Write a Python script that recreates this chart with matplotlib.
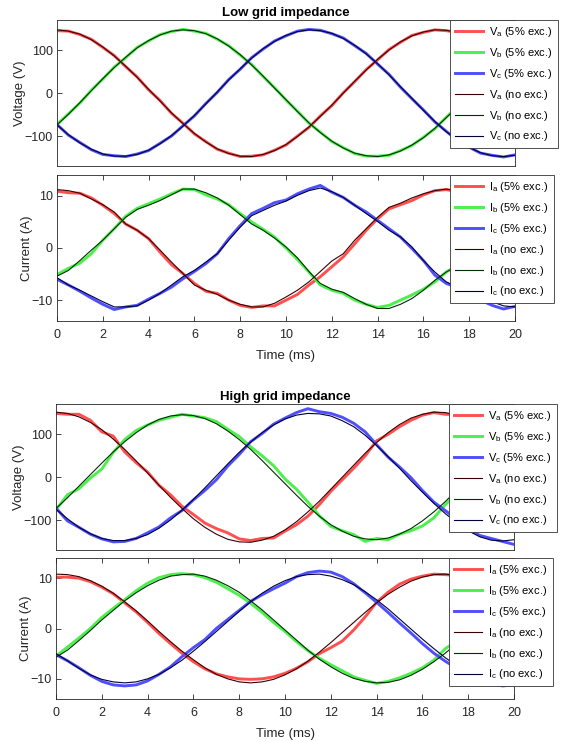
import numpy as np
import matplotlib
matplotlib.use("Agg")
import matplotlib.pyplot as plt

plt.rcParams['font.family'] = ['Liberation Sans', 'DejaVu Sans']
plt.rcParams['mathtext.fontset'] = 'custom'
plt.rcParams['mathtext.rm'] = 'Liberation Sans'

# time axis (ms), one reading every 0.5 ms
t = np.arange(0, 20.01, 0.5)

# low grid impedance - voltages (V)
low_va_exc = [146, 145, 137, 126, 107, 88, 62, 38, 8, -17, -47, -70, -95, -113, -131, -140, -148, -147, -144, -133, -121,
              -100, -80, -53, -29, 1, 27, 55, 78, 102, 119, 135, 142, 148, 146, 142, 129, 115, 93, 72, 45]
low_vb_exc = [-73, -48, -23, 7, 33, 61, 83, 107, 122, 137, 144, 149, 145, 140, 126, 111, 89, 67, 39, 13, -16,
              -42, -70, -91, -113, -127, -141, -147, -147, -145, -134, -122, -103, -83, -56, -32, -2, 24, 53, 76, 100]
low_vc_exc = [-73, -98, -115, -132, -143, -146, -148, -142, -134, -117, -100, -76, -53, -24, 2, 32, 56, 83, 103, 122, 134,
              145, 149, 147, 139, 129, 111, 93, 68, 44, 14, -13, -39, -67, -89, -111, -126, -140, -145, -149, -144]
low_va = [148, 145, 138, 125, 108, 87, 63, 37, 9, -18, -46, -71, -94, -114, -130, -141, -147, -148, -143, -134, -120,
          -101, -79, -54, -28, 0, 28, 54, 79, 101, 120, 134, 143, 148, 147, 141, 130, 114, 94, 71, 46]
low_vb = [-74, -49, -22, 6, 34, 60, 84, 106, 123, 136, 145, 148, 146, 139, 127, 110, 90, 66, 40, 12, -15,
          -43, -69, -92, -112, -128, -140, -146, -148, -144, -135, -121, -104, -82, -57, -31, -3, 25, 52, 77, 99]
low_vc = [-74, -97, -116, -131, -142, -147, -147, -143, -133, -118, -99, -77, -52, -25, 3, 31, 57, 82, 104, 121, 135,
          144, 148, 146, 140, 128, 112, 92, 69, 43, 15, -12, -40, -66, -90, -110, -127, -139, -146, -148, -145]

# low grid impedance - currents (A)
low_ia_exc = [10.9, 10.6, 10.5, 9.6, 8.2, 6.6, 4.6, 3.4, 1.8, -0.8, -3.2, -4.9, -6.8, -8.3, -8.7, -10.0, -11.0, -11.4, -11.1, -11.1, -10.0,
              -8.9, -7.1, -5.5, -3.6, -1.7, 0.8, 3.4, 5.6, 7.5, 8.3, 9.1, 10.2, 11.0, 11.2, 10.8, 10.4, 9.5, 8.2, 6.6, 4.6]
low_ib_exc = [-5.1, -3.9, -2.9, -1.1, 1.5, 3.7, 6.1, 7.6, 8.5, 9.4, 10.4, 11.3, 11.2, 10.2, 9.4, 8.3, 6.6, 5.0, 3.6, 2.1, 0.0,
              -2.2, -4.6, -7.1, -8.1, -8.7, -10.0, -10.8, -11.4, -11.0, -10.0, -9.0, -7.9, -6.5, -4.6, -3.3, -1.8, 1.2, 2.6, 5.0, 7.2]
low_ic_exc = [-6.0, -7.1, -8.3, -9.6, -10.8, -11.8, -11.3, -11.0, -9.8, -8.7, -7.5, -5.9, -4.5, -3.0, -1.1, 1.8, 4.3, 6.6, 7.6, 8.7, 9.2,
              10.4, 11.3, 12.0, 10.7, 9.7, 8.2, 6.9, 5.3, 3.7, 2.1, -0.1, -2.4, -5.2, -6.8, -7.6, -8.5, -10.0, -11.0, -11.7, -11.2]
low_ia = [11.2, 11.0, 10.5, 9.4, 8.3, 6.9, 4.6, 3.4, 1.8, -0.4, -2.7, -4.9, -7.1, -8.1, -8.9, -10.0, -10.8, -11.3, -11.3, -10.6, -9.4,
          -8.1, -6.5, -4.5, -2.5, -1.1, 1.5, 3.7, 5.9, 7.8, 8.6, 9.6, 10.4, 11.0, 11.3, 11.0, 10.5, 9.4, 8.2, 6.5, 4.6]
low_ib = [-5.4, -4.3, -2.4, -0.4, 1.5, 3.7, 5.9, 7.4, 8.2, 9.1, 10.2, 11.3, 11.3, 10.6, 9.6, 8.2, 6.4, 4.6, 3.4, 1.9, 0.2,
          -1.9, -4.5, -6.8, -7.9, -8.5, -9.7, -10.8, -11.6, -11.6, -10.8, -9.7, -8.1, -6.2, -4.6, -3.4, -1.7, 0.5, 3.0, 5.3, 7.0]
low_ic = [-5.7, -7.1, -8.1, -9.2, -10.3, -11.3, -11.3, -11.1, -10.0, -8.7, -7.1, -5.5, -4.3, -2.7, -1.1, 1.5, 4.0, 6.2, 7.2, 8.2, 9.0,
          10.1, 11.0, 11.5, 10.8, 9.7, 8.2, 6.6, 5.1, 3.4, 2.1, 0.2, -2.4, -4.6, -6.5, -7.5, -8.3, -9.3, -10.3, -11.1, -11.3]

# high grid impedance - voltages (V)
high_va_exc = [149, 147, 147, 133, 106, 96, 59, 34, 12, -19, -41, -68, -87, -107, -120, -130, -144, -148, -143, -142, -126,
               -111, -91, -64, -33, -6, 21, 50, 85, 100, 118, 133, 145, 151, 147, 146, 138, 125, 105, 85, 58]
high_vb_exc = [-76, -41, -27, -2, 19, 58, 88, 109, 122, 133, 140, 147, 143, 139, 130, 112, 95, 71, 50, 27, -4,
               -28, -58, -90, -115, -125, -134, -150, -143, -146, -133, -125, -114, -95, -64, -38, -12, 18, 45, 72, 98]
high_vc_exc = [-72, -102, -117, -133, -144, -151, -150, -143, -130, -116, -95, -78, -53, -31, -6, 26, 53, 83, 102, 124, 138,
               151, 160, 153, 149, 140, 126, 106, 76, 47, 24, -1, -31, -58, -78, -98, -120, -136, -143, -150, -157]
high_va = [152, 149, 141, 128, 111, 89, 65, 38, 10, -19, -47, -73, -97, -117, -133, -145, -151, -152, -147, -138, -123,
           -104, -81, -56, -28, 0, 28, 56, 81, 104, 123, 138, 147, 152, 151, 145, 133, 117, 97, 73, 47]
high_vb = [-73, -48, -21, 6, 33, 59, 83, 104, 122, 135, 143, 146, 144, 137, 125, 108, 88, 65, 39, 12, -15,
           -42, -68, -91, -111, -126, -138, -144, -146, -142, -133, -120, -102, -81, -57, -30, -3, 24, 51, 76, 98]
high_vc = [-75, -97, -117, -132, -143, -148, -148, -143, -134, -119, -100, -77, -52, -25, 3, 31, 58, 82, 104, 122, 136,
           145, 149, 148, 143, 132, 118, 98, 74, 48, 21, -8, -35, -61, -85, -106, -125, -139, -147, -149, -146]

# high grid impedance - currents (A)
high_ia_exc = [10.2, 10.2, 10.0, 9.3, 8.2, 6.9, 5.1, 3.3, 1.2, -1.0, -3.0, -4.9, -6.6, -8.0, -9.0, -9.6, -10.0, -10.1, -10.0, -9.6, -8.9,
               -7.9, -6.6, -5.0, -3.8, -2.5, -0.3, 2.3, 5.2, 7.2, 8.8, 9.8, 10.4, 10.8, 10.7, 10.5, 10.1, 9.4, 8.4, 7.0, 5.4]
high_ib_exc = [-5.5, -3.7, -1.9, 0.0, 2.2, 4.0, 5.7, 7.5, 9.0, 10.1, 10.7, 10.9, 10.7, 10.1, 9.2, 7.9, 6.6, 5.0, 3.2, 1.2, -0.6,
               -2.6, -4.4, -5.9, -7.2, -8.4, -9.6, -10.3, -10.9, -10.5, -9.8, -8.9, -7.8, -6.3, -4.0, -2.5, -0.7, 1.5, 3.4, 5.2, 6.9]
high_ic_exc = [-5.2, -6.4, -7.8, -9.3, -10.5, -11.2, -11.4, -11.2, -10.4, -9.1, -7.6, -5.6, -3.8, -2.2, 0.0, 1.8, 3.6, 5.4, 6.7, 7.9, 9.0,
               10.3, 11.1, 11.4, 11.2, 10.3, 8.9, 7.1, 5.2, 3.2, 1.1, -0.9, -3.0, -4.9, -6.5, -7.9, -9.2, -10.3, -11.0, -11.4, -11.2]
high_ia = [10.8, 10.7, 10.3, 9.5, 8.4, 7.0, 5.3, 3.5, 1.5, -0.6, -2.6, -4.5, -6.2, -7.8, -9.1, -10.0, -10.6, -10.8, -10.6, -10.1, -9.2,
           -8.0, -6.5, -4.7, -2.8, -0.8, 1.2, 3.2, 5.1, 6.8, 8.2, 9.4, 10.2, 10.7, 10.8, 10.5, 9.8, 8.8, 7.5, 5.9, 4.1]
high_ib = [-5.7, -4.3, -2.4, -0.4, 1.7, 3.6, 5.5, 7.1, 8.5, 9.6, 10.4, 10.7, 10.8, 10.4, 9.6, 8.5, 7.2, 5.5, 3.7, 1.7, -0.3,
           -2.3, -4.3, -6.1, -7.6, -8.9, -9.9, -10.5, -10.8, -10.7, -10.2, -9.3, -8.1, -6.6, -4.9, -3.0, -1.0, 1.0, 3.0, 4.9, 6.6]
high_ic = [-5.0, -6.4, -7.9, -9.2, -10.1, -10.6, -10.8, -10.6, -10.0, -9.1, -7.8, -6.3, -4.5, -2.6, -0.6, 1.4, 3.4, 5.3, 7.0, 8.4, 9.5,
           10.3, 10.7, 10.8, 10.4, 9.7, 8.7, 7.3, 5.7, 3.9, 1.9, -0.1, -2.1, -4.0, -5.8, -7.4, -8.6, -9.6, -10.3, -10.7, -10.7]

exc_colors = ['#ff4f4f', '#4cf04c', '#4f4fff']
ref_colors = ['#3a0000', '#002e00', '#00003a']
W, H = 561, 742


def panel(rect, exc, ref, sym, ylabel, yticks, ylim, xaxis, title=None):
    ax = plt.axes([rect[0] / W, 1 - rect[3] / H, (rect[2] - rect[0]) / W, (rect[3] - rect[1]) / H])
    names = []
    for y, c, ph in zip(exc, exc_colors, 'abc'):
        ax.plot(t, y, color=c, lw=2.1)
        names.append(sym + r'$_\mathregular{' + ph + r'}$ (5% exc.)')
    for y, c, ph in zip(ref, ref_colors, 'abc'):
        ax.plot(t, y, color=c, lw=0.8)
        names.append(sym + r'$_\mathregular{' + ph + r'}$ (no exc.)')
    ax.set_xlim(0, 20)
    ax.set_ylim(*ylim)
    ax.set_yticks(yticks)
    ax.set_ylabel(ylabel, fontsize=9.5, color='0.15', labelpad=-1)
    if xaxis:
        ax.set_xticks(np.arange(0, 21, 2))
        ax.set_xlabel('Time (ms)', fontsize=9.5, color='0.15', labelpad=6)
    else:
        ax.set_xticks([])
    ax.tick_params(direction='in', length=3.5, width=0.6, top=True, right=True,
                   labelsize=9, colors='0.15')
    ax.tick_params(axis='x', pad=6)
    ax.tick_params(axis='y', pad=3)
    for s in ax.spines.values():
        s.set_color('0.15')
        s.set_linewidth(0.6)
    if title:
        ax.set_title(title, fontsize=9.5, fontweight='bold', pad=3)
    leg = ax.legend(names, loc='upper left', bbox_to_anchor=(0.858, 1.0), borderaxespad=0,
                    fontsize=8, fancybox=False, framealpha=1, edgecolor='0.2',
                    handlelength=2.5, handletextpad=0.6, labelspacing=0.62, borderpad=0.45)
    leg.get_frame().set_linewidth(0.6)
    return ax


fig = plt.figure(figsize=(W / 100, H / 100), dpi=100)

panel((57, 20, 515, 166), [low_va_exc, low_vb_exc, low_vc_exc], [low_va, low_vb, low_vc],
      'V', 'Voltage (V)', [-100, 0, 100], (-170, 171), False, 'Low grid impedance')
panel((57, 175, 515, 321), [low_ia_exc, low_ib_exc, low_ic_exc], [low_ia, low_ib, low_ic],
      'I', 'Current (A)', [-10, 0, 10], (-14, 14), True)
panel((56, 404, 514, 550), [high_va_exc, high_vb_exc, high_vc_exc], [high_va, high_vb, high_vc],
      'V', 'Voltage (V)', [-100, 0, 100], (-170, 171), False, 'High grid impedance')
panel((56, 558, 514, 699), [high_ia_exc, high_ib_exc, high_ic_exc], [high_ia, high_ib, high_ic],
      'I', 'Current (A)', [-10, 0, 10], (-14, 14), True)

plt.savefig('out.png', dpi=100)
